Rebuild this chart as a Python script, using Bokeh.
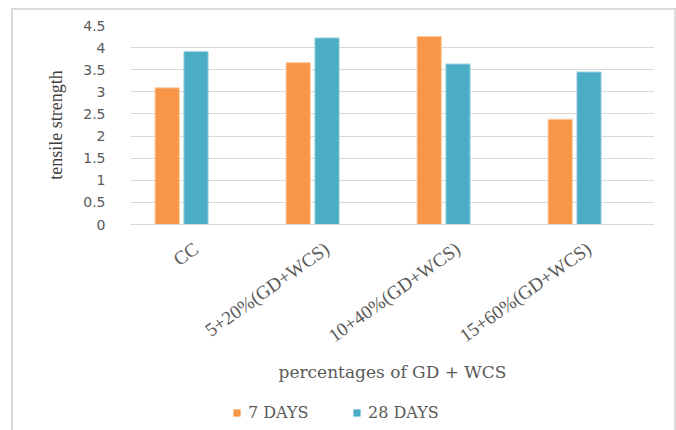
import math
from bokeh.plotting import figure
from bokeh.layouts import column
from bokeh.models import ColumnDataSource, FactorRange, Legend, LegendItem
from bokeh.transform import dodge
from bokeh.embed import file_html
from bokeh.resources import INLINE

categories = ["CC", "5+20%(GD+WCS)", "10+40%(GD+WCS)", "15+60%(GD+WCS)"]
days7 = [3.09, 3.66, 4.25, 2.38]
days28 = [3.91, 4.22, 3.63, 3.45]
series_names = ["7 DAYS", "28 DAYS"]
series_colors = ["#F79646", "#4BACC6"]
y_ticks = [0, 0.5, 1, 1.5, 2, 2.5, 3, 3.5, 4, 4.5]

BORDER = "2px solid #d9d9d9"
src = ColumnDataSource(dict(cat=categories, d7=days7, d28=days28))

p = figure(width=665, height=390, x_range=FactorRange(*categories, range_padding=0),
           y_range=(0, 4.5), output_backend="svg", toolbar_location=None,
           min_border_left=117, min_border_right=24, min_border_top=15,
           min_border_bottom=176)
p.margin = (8, 0, 0, 11)
p.styles = {"border-top": BORDER, "border-left": BORDER, "border-right": BORDER}
p.outline_line_color = None

p.vbar(x=dodge("cat", -0.22, range=p.x_range), top="d7", width=0.185, source=src,
       fill_color=series_colors[0], line_color="#FBC9A2", line_width=1)
p.vbar(x=dodge("cat", 0.0, range=p.x_range), top="d28", width=0.185, source=src,
       fill_color=series_colors[1], line_color="#A5D5E2", line_width=1)

p.yaxis.ticker = y_ticks
p.yaxis.major_label_overrides = {0: "0", 1: "1", 2: "2", 3: "3", 4: "4"}
p.ygrid.grid_line_color = "#d9d9d9"
p.ygrid.grid_line_width = 1
p.xgrid.grid_line_color = None
for ax in (p.xaxis, p.yaxis):
    ax.axis_line_color = None
    ax.major_tick_line_color = None
    ax.minor_tick_line_color = None
p.xaxis.axis_line_color = "#d9d9d9"

p.yaxis.major_label_text_font = "DejaVu Sans"
p.yaxis.major_label_text_font_size = "14px"
p.yaxis.major_label_text_color = "#595959"
p.yaxis.major_label_standoff = 19
p.yaxis.axis_label = "tensile strength"
p.yaxis.axis_label_text_font = "Liberation Serif"
p.yaxis.axis_label_text_font_style = "normal"
p.yaxis.axis_label_text_font_size = "18px"
p.yaxis.axis_label_text_color = "#404040"
p.yaxis.axis_label_standoff = 14

p.xaxis.major_label_orientation = 0.62
p.xaxis.major_label_text_font = "Liberation Serif"
p.xaxis.major_label_text_font_size = "19px"
p.xaxis.major_label_text_color = "#595959"
p.xaxis.major_label_standoff = 16
p.xaxis.axis_label = "percentages of GD + WCS"
p.xaxis.axis_label_text_font = "DejaVu Serif"
p.xaxis.axis_label_text_font_style = "normal"
p.xaxis.axis_label_text_font_size = "17px"
p.xaxis.axis_label_text_color = "#595959"
p.xaxis.axis_label_standoff = 4

# legend strip below the chart, inside the same bordered box
pl = figure(width=665, height=60, x_range=(0, 1), y_range=(0, 1),
            output_backend="svg", toolbar_location=None,
            x_axis_location=None, y_axis_location=None,
            min_border_left=0, min_border_right=0, min_border_top=0, min_border_bottom=0)
pl.margin = (0, 0, 0, 11)
pl.styles = {"border-left": BORDER, "border-right": BORDER}
pl.outline_line_color = None
pl.grid.visible = False
g1 = pl.vbar(x=[-5], top=[0], width=0.1, fill_color=series_colors[0], line_color=None)
g2 = pl.vbar(x=[-5], top=[0], width=0.1, fill_color=series_colors[1], line_color=None)

legend = Legend(items=[LegendItem(label=series_names[0], renderers=[g1]),
                       LegendItem(label=series_names[1], renderers=[g2])],
                orientation="horizontal", location=(102, 36),
                glyph_width=9, glyph_height=9, padding=0, margin=0, spacing=20,
                label_width=84,
                label_text_font="DejaVu Serif", label_text_font_size="16px",
                label_text_color="#595959", border_line_color=None,
                background_fill_alpha=0, label_standoff=7)
pl.add_layout(legend, "center")

layout = column(p, pl, spacing=0)
open("out.html", "w").write(file_html(layout, INLINE))
